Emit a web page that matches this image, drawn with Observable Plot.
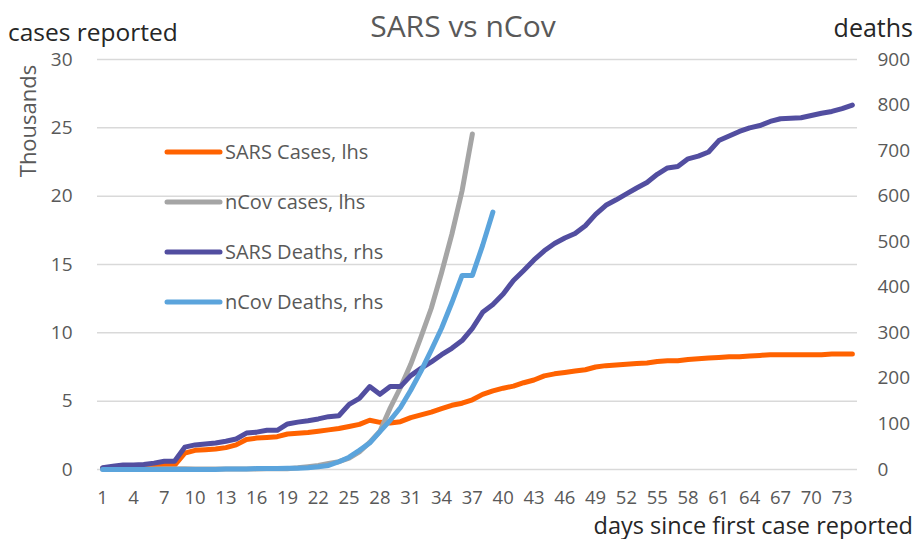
<!DOCTYPE html>
<html>
<head>
<meta charset="utf-8">
<script src="https://cdn.jsdelivr.net/npm/d3@7"></script>
<script src="https://cdn.jsdelivr.net/npm/@observablehq/plot@0.6"></script>
<style>
  html, body { margin: 0; padding: 0; background: #fff; }
  #wrap { position: relative; width: 919px; height: 539px; font-family: "Open Sans", sans-serif; }
  #chart { position: absolute; left: 0; top: 0; }
  #overlay { position: absolute; left: 0; top: 0; pointer-events: none; }
</style>
</head>
<body>
<div id="wrap">
  <div id="chart"></div>
  <svg id="overlay" width="919" height="539" font-family="Open Sans, sans-serif"></svg>
</div>
<script>
// ---- data ----
const days = d3.range(1, 75); // category index: days since first case reported (1..74)

// SARS cumulative cases, thousands (lhs)
const sarsCases = [
  0.10, 0.15, 0.20, 0.20, 0.20, 0.25, 0.30, 0.30, 1.20, 1.40,
  1.45, 1.50, 1.60, 1.80, 2.20, 2.30, 2.35, 2.40, 2.60, 2.65,
  2.70, 2.80, 2.90, 3.00, 3.15, 3.30, 3.60, 3.45, 3.40, 3.50,
  3.80, 4.00, 4.20, 4.45, 4.70, 4.85, 5.10, 5.50, 5.75, 5.95,
  6.10, 6.35, 6.55, 6.85, 7.00, 7.10, 7.20, 7.30, 7.50, 7.60,
  7.65, 7.70, 7.75, 7.80, 7.90, 7.95, 7.95, 8.05, 8.10, 8.15,
  8.20, 8.25, 8.25, 8.30, 8.35, 8.40, 8.40, 8.40, 8.40, 8.40,
  8.40, 8.45, 8.45, 8.45
];

// nCov cumulative cases, thousands (lhs), days 1..37
const ncovCases = [
  0.03, 0.03, 0.04, 0.04, 0.04, 0.04, 0.05, 0.05, 0.05, 0.04,
  0.04, 0.04, 0.04, 0.04, 0.04, 0.04, 0.05, 0.05, 0.06, 0.12,
  0.20, 0.29, 0.44, 0.57, 0.83, 1.29, 1.98, 2.80, 4.50, 6.00,
  7.70, 9.70, 11.80, 14.40, 17.20, 20.40, 24.55
];

// SARS cumulative deaths (rhs)
const sarsDeaths = [
  4, 7, 10, 10, 11, 14, 18, 18, 49, 54,
  56, 58, 62, 67, 80, 82, 86, 86, 100, 104,
  107, 111, 116, 118, 143, 156, 182, 165, 182, 182,
  206, 222, 236, 252, 266, 283, 310, 345, 362, 385,
  415, 437, 460, 480, 496, 508, 518, 535, 560, 580,
  592, 605, 618, 630, 648, 662, 665, 682, 688, 697,
  722, 732, 742, 750, 755, 764, 770, 771, 772, 777,
  782, 786, 792, 800
];

// nCov cumulative deaths (rhs), days 1..39
const ncovDeaths = [
  0, 0, 0, 0, 0, 0, 0, 0, 0, 0,
  0, 0, 1, 1, 1, 2, 2, 2, 3, 3,
  4, 6, 9, 17, 27, 42, 58, 83, 108, 136,
  174, 216, 262, 310, 366, 426, 426, 492, 565
];

const seriesNames = ["SARS Cases, lhs", "nCov cases, lhs", "SARS Deaths, rhs", "nCov Deaths, rhs"];
const seriesColors = ["#ff6200", "#a5a5a5", "#524ea0", "#5ba4dc"];

const yTicksThousands = [0, 5, 10, 15, 20, 25, 30];
const deathTicks = [0, 100, 200, 300, 400, 500, 600, 700, 800, 900];
const xTicks = [1, 4, 7, 10, 13, 16, 19, 22, 25, 28, 31, 34, 37, 40, 43, 46, 49, 52, 55, 58, 61, 64, 67, 70, 73];

const titleText = "SARS vs nCov";
const leftAxisTitle = "cases reported";
const rightAxisTitle = "deaths";
const unitsLabel = "Thousands";
const xAxisTitle = "days since first case reported";

// ---- build tables ----
const deathsMax = 900, casesMax = 30;
const toLeft = d => d * casesMax / deathsMax; // map rhs deaths onto lhs scale
const rowsSarsCases = sarsCases.map((v, i) => ({day: days[i], v}));
const rowsNcovCases = ncovCases.map((v, i) => ({day: days[i], v}));
const rowsSarsDeaths = sarsDeaths.map((v, i) => ({day: days[i], v: toLeft(v)}));
const rowsNcovDeaths = ncovDeaths.map((v, i) => ({day: days[i], v: toLeft(v)}));
const deathTickPositions = deathTicks.map(toLeft);

const lineOpts = (color) => ({x: "day", y: "v", stroke: color, strokeWidth: 5, strokeLinecap: "round", strokeLinejoin: "round"});

const chart = Plot.plot({
  width: 919,
  height: 539,
  marginTop: 59,
  marginBottom: 70,
  marginLeft: 97,
  marginRight: 62,
  style: {fontFamily: "Open Sans, sans-serif", background: "transparent", overflow: "visible"},
  x: {domain: [0.5, 74.5]},
  y: {domain: [0, casesMax]},
  marks: [
    Plot.gridY(yTicksThousands, {stroke: "#d9d9d9", strokeOpacity: 1, strokeWidth: 1.5}),
    Plot.axisY(yTicksThousands, {anchor: "left", tickSize: 0, tickPadding: 25, label: null, fontSize: 19, fill: "#595959"}),
    Plot.axisY(deathTickPositions, {anchor: "right", tickSize: 0, tickPadding: 20, label: null, fontSize: 19, fill: "#595959",
      tickFormat: d => String(Math.round(d * deathsMax / casesMax))}),
    Plot.axisX(xTicks, {anchor: "bottom", tickSize: 0, tickPadding: 21, label: null, fontSize: 18.5, fill: "#595959"}),
    Plot.lineY(rowsSarsCases, lineOpts(seriesColors[0])),
    Plot.lineY(rowsNcovCases, lineOpts(seriesColors[1])),
    Plot.lineY(rowsSarsDeaths, lineOpts(seriesColors[2])),
    Plot.lineY(rowsNcovDeaths, lineOpts(seriesColors[3]))
  ]
});
document.getElementById("chart").appendChild(chart);

// ---- titles, labels and legend ----
const ov = d3.select("#overlay");
ov.append("text").attr("x", 463).attr("y", 37).attr("text-anchor", "middle")
  .attr("font-size", 30).attr("fill", "#595959").text(titleText);
ov.append("text").attr("x", 8).attr("y", 41).attr("font-size", 24.5).attr("fill", "#262626").text(leftAxisTitle);
ov.append("text").attr("x", 913).attr("y", 37).attr("text-anchor", "end").attr("font-size", 25).attr("fill", "#262626").text(rightAxisTitle);
ov.append("text").attr("transform", "translate(36,121) rotate(-90)").attr("text-anchor", "middle")
  .attr("font-size", 22).attr("fill", "#595959").text(unitsLabel);
ov.append("text").attr("x", 913).attr("y", 533.5).attr("text-anchor", "end").attr("font-size", 23.5).attr("fill", "#262626").text(xAxisTitle);

const legendRowsY = [152, 202, 252, 302];
seriesNames.forEach((name, i) => {
  const y = legendRowsY[i];
  ov.append("line").attr("x1", 167).attr("x2", 220).attr("y1", y).attr("y2", y)
    .attr("stroke", seriesColors[i]).attr("stroke-width", 5).attr("stroke-linecap", "round");
  ov.append("text").attr("x", 225).attr("y", y + 6.5).attr("font-size", 20).attr("fill", "#595959").text(name);
});
</script>
</body>
</html>
